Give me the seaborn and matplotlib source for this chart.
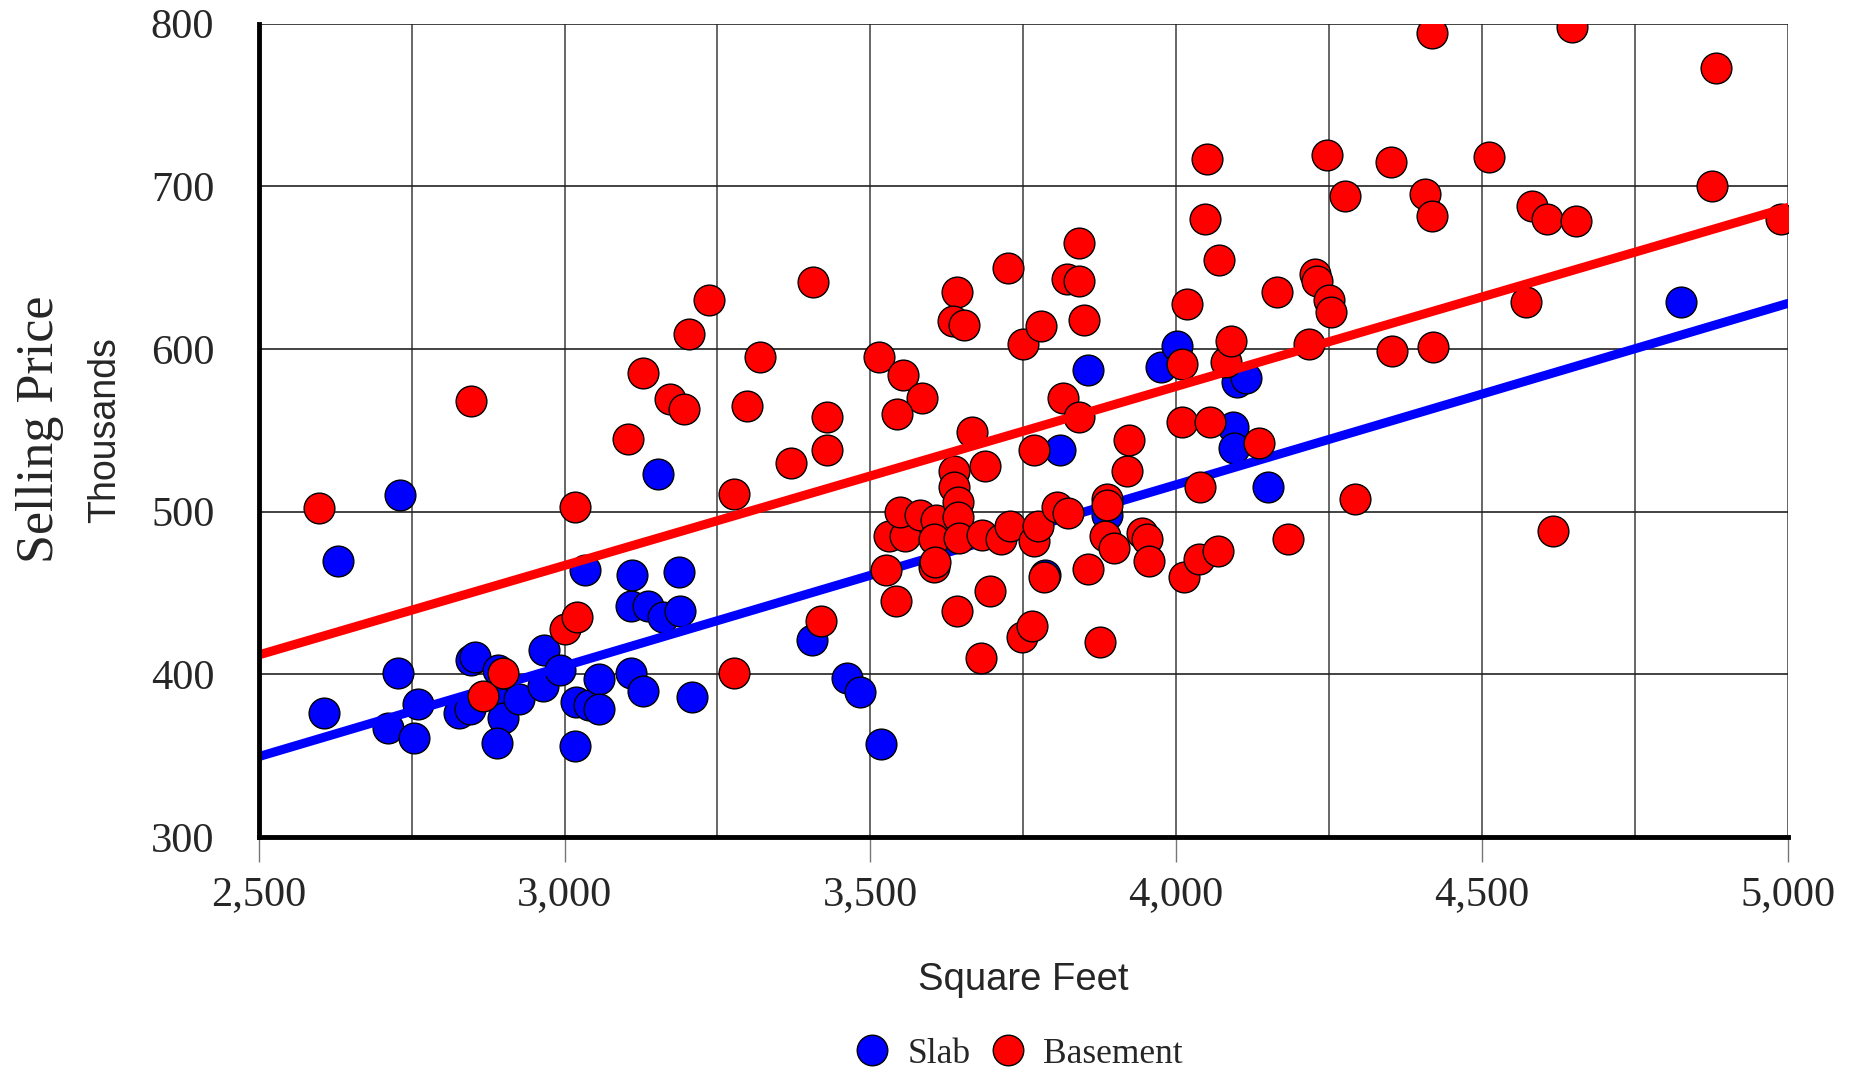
import matplotlib
matplotlib.use("Agg")
import matplotlib.pyplot as plt
from matplotlib.lines import Line2D
import seaborn as sns
import pandas as pd
import numpy as np

# Slab houses (square feet, price in thousands)
slab_sqft = [2607, 2629, 2731, 2728, 2712, 2760, 2754, 2828, 2845, 2847,
             2854, 2891, 2899, 2899, 2889, 2925, 2964, 2967, 2992, 3018,
             3040, 3017, 3034, 3056, 3056, 3109, 3128, 3108, 3111, 3136,
             3161, 3187, 3188, 3152, 3209, 3404, 3462, 3483, 3517, 3786,
             3811, 3856, 3887, 3976, 4002, 4093, 4094, 4099, 4114, 4150,
             4825]
slab_price = [376, 470, 510, 401, 367, 382, 361, 376, 379, 409,
              411, 403, 382, 373, 358, 385, 393, 415, 403, 383,
              381, 356, 464, 397, 379, 401, 390, 442, 461, 442,
              435, 463, 439, 523, 386, 421, 398, 389, 357, 461,
              538, 587, 498, 589, 602, 552, 539, 580, 582, 515,
              629]

# Basement houses
base_sqft = [2599, 2847, 2866, 2899, 3000, 3020, 3017, 3104, 3128, 3172,
             3195, 3204, 3236, 3277, 3277, 3298, 3320, 3370, 3406, 3420,
             3429, 3429, 3514, 3553, 3584, 3544, 3526, 3542, 3531, 3557,
             3548, 3581, 3607, 3604, 3604, 3606, 3642, 3637, 3637, 3644,
             3644, 3645, 3642, 3636, 3654, 3666, 3687, 3683, 3695, 3681,
             3714, 3729, 3726, 3750, 3748, 3764, 3767, 3767, 3774, 3779,
             3784, 3805, 3815, 3822, 3824, 3841, 3842, 3842, 3850, 3856,
             3875, 3884, 3887, 3887, 3898, 3920, 3923, 3944, 3952, 3955,
             4010, 4009, 4013, 4018, 4037, 4040, 4048, 4050, 4055, 4068,
             4070, 4082, 4090, 4135, 4165, 4183, 4218, 4228, 4231, 4250,
             4254, 4247, 4277, 4293, 4351, 4353, 4407, 4418, 4418, 4420,
             4512, 4573, 4582, 4607, 4617, 4648, 4654, 4876, 4883, 4989]
base_price = [502, 568, 387, 401, 428, 435, 503, 545, 585, 569,
              563, 609, 630, 511, 401, 565, 595, 530, 641, 433,
              558, 538, 595, 584, 570, 560, 464, 445, 485, 485,
              500, 498, 495, 483, 466, 469, 439, 525, 515, 506,
              497, 484, 635, 617, 615, 549, 528, 486, 451, 410,
              483, 491, 650, 603, 423, 430, 538, 482, 491, 614,
              460, 503, 570, 643, 499, 665, 642, 558, 618, 465,
              420, 485, 508, 504, 478, 525, 544, 487, 483, 470,
              591, 555, 460, 628, 471, 515, 680, 717, 555, 476,
              655, 592, 605, 542, 635, 483, 603, 646, 642, 630,
              623, 719, 694, 508, 715, 599, 695, 794, 682, 601,
              718, 629, 688, 680, 488, 798, 679, 700, 773, 680]

# trend lines: price = intercept + slope * sqft
slab_fit = (71.0, 0.1114)
base_fit = (137.0, 0.1100)

x_ticks = [2500, 3000, 3500, 4000, 4500, 5000]
x_minor = [2500, 2750, 3000, 3250, 3500, 3750, 4000, 4250, 4500, 4750, 5000]
y_ticks = [300, 400, 500, 600, 700, 800]

slab_color = "#0000FF"
base_color = "#FF0000"


def main():
    sns.set_style("white")
    plt.rcParams['font.family'] = ['Liberation Serif', 'DejaVu Serif']

    slab = pd.DataFrame({'sqft': slab_sqft, 'price': slab_price})
    base = pd.DataFrame({'sqft': base_sqft, 'price': base_price})

    fig = plt.figure(figsize=(18.62, 10.76), dpi=100)
    ax = fig.add_axes([0.139, 0.222, 0.821, 0.756])

    line_x = np.array([2500, 5000])

    sns.scatterplot(data=slab, x='sqft', y='price', ax=ax, color=slab_color,
                    s=490, edgecolor='black', linewidth=1, zorder=3)
    sns.lineplot(x=line_x, y=slab_fit[0] + slab_fit[1] * line_x, ax=ax,
                 color=slab_color, linewidth=6.5, zorder=4)
    sns.scatterplot(data=base, x='sqft', y='price', ax=ax, color=base_color,
                    s=490, edgecolor='black', linewidth=1, zorder=5)
    sns.lineplot(x=line_x, y=base_fit[0] + base_fit[1] * line_x, ax=ax,
                 color=base_color, linewidth=6.5, zorder=6)

    ax.set_xlim(2500, 5000)
    ax.set_ylim(300, 800)
    ax.set_xticks(x_ticks)
    ax.set_xticks(x_minor, minor=True)
    ax.set_xticklabels([f"{v:,}" for v in x_ticks])
    ax.set_yticks(y_ticks)
    ax.set_yticklabels([str(v) for v in y_ticks])

    ax.xaxis.grid(True, which='both', color='#666666', linewidth=1.4, zorder=0)
    ax.yaxis.grid(True, which='major', color='#222222', linewidth=1.2, zorder=0)
    ax.set_axisbelow(True)

    ax.tick_params(axis='x', which='major', length=18, width=1, color='#777777',
                   direction='out', pad=10, labelsize=30.5, bottom=True)
    ax.tick_params(axis='x', which='minor', length=0)
    ax.tick_params(axis='y', length=0, pad=32, labelsize=30.5)

    for side in ['top', 'right']:
        ax.spines[side].set_visible(False)
    for side in ['left', 'bottom']:
        ax.spines[side].set_color('black')
        ax.spines[side].set_linewidth(3.5)
        ax.spines[side].set_zorder(7)

    ax.set_xlabel('')
    ax.set_ylabel('')

    fig.text(0.0215, 0.601, 'Selling Price', rotation=90, ha='center', va='center',
             fontsize=37.5, family=['Liberation Serif'])
    fig.text(0.0565, 0.600, 'Thousands', rotation=90, ha='center', va='center',
             fontsize=27, family=['Liberation Sans'])
    fig.text(0.5497, 0.0892, 'Square Feet', ha='center', va='center',
             fontsize=27.5, family=['Liberation Sans'])

    handles = [
        Line2D([], [], linestyle='none', marker='o', markersize=22,
               markerfacecolor=slab_color, markeredgecolor='black', markeredgewidth=1),
        Line2D([], [], linestyle='none', marker='o', markersize=22,
               markerfacecolor=base_color, markeredgecolor='black', markeredgewidth=1),
    ]
    fig.legend(handles, ['Slab', 'Basement'], loc='center', ncol=2,
               bbox_to_anchor=(0.546, 0.0204), frameon=False, fontsize=25.5,
               handletextpad=0.4, columnspacing=0.45, handlelength=1.2)

    fig.savefig('out.png', dpi=100)
    plt.close(fig)


if __name__ == "__main__":
    main()
